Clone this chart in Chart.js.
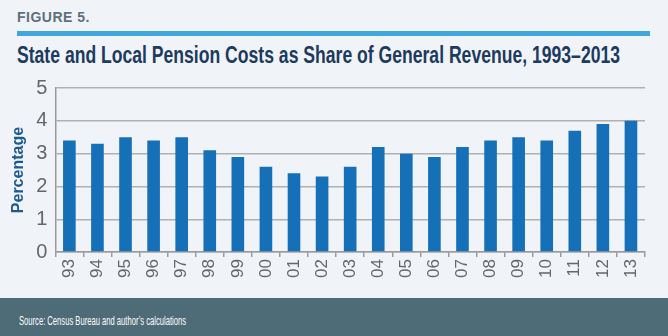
<!DOCTYPE html>
<html lang="en">
<head>
  <meta charset="UTF-8" />
  <title>Figure 5 - Pension Costs</title>
  <script src="https://cdn.jsdelivr.net/npm/chart.js"></script>
  <style>
    html, body {
      margin: 0;
      padding: 0;
    }
    body {
      width: 668px;
      height: 336px;
      background: #f0f4f8;
      position: relative;
      overflow: hidden;
      font-family: 'Liberation Sans', Arial, sans-serif;
    }
    .fig-label {
      position: absolute;
      left: 17px;
      top: 9px;
      font-weight: 700;
      font-size: 14px;
      letter-spacing: 0.5px;
      color: #5f6f7d;
    }
    .rule {
      position: absolute;
      left: 17px;
      top: 31px;
      width: 633px;
      height: 5px;
      background: #3fa7de;
    }
    .squeeze {
      position: absolute;
      white-space: nowrap;
      transform-origin: 0 0;
    }
    .title {
      left: 17px;
      top: 42px;
      font-weight: 700;
      font-size: 23px;
      color: #1d3a5f;
    }
    .chart-box {
      position: absolute;
      left: 0;
      top: 68px;
      width: 668px;
      height: 212px;
    }
    .footer {
      position: absolute;
      left: 0;
      top: 298px;
      width: 668px;
      height: 38px;
      background: #4e6b78;
    }
    .source {
      left: 19px;
      top: 313px;
      color: #ffffff;
      font-size: 13px;
    }
  </style>
</head>
<body>
  <div class="fig-label">FIGURE 5.</div>
  <div class="rule"></div>
  <div class="squeeze title" data-w="603">State and Local Pension Costs as Share of General Revenue, 1993–2013</div>
  <div class="chart-box"><canvas id="chart" width="668" height="212"></canvas></div>
  <div class="footer"></div>
  <div class="squeeze source" data-w="167">Source: Census Bureau and author’s calculations</div>

  <script>
    const years = ["93", "94", "95", "96", "97", "98", "99", "00", "01", "02", "03",
                   "04", "05", "06", "07", "08", "09", "10", "11", "12", "13"];
    const pensionShare = [3.4, 3.3, 3.5, 3.4, 3.5, 3.1, 2.9, 2.6, 2.4, 2.3, 2.6,
                          3.2, 3.0, 2.9, 3.2, 3.4, 3.5, 3.4, 3.7, 3.9, 4.0];
    const yTicks = [0, 1, 2, 3, 4, 5];

    // condensed look: squeeze text horizontally to the reference widths
    document.querySelectorAll(".squeeze").forEach(el => {
      const w = el.getBoundingClientRect().width;
      el.style.transform = `scaleX(${el.dataset.w / w})`;
    });

    const ctx = document.getElementById("chart").getContext("2d");
    const chart = new Chart(ctx, {
      type: "bar",
      data: {
        labels: years,
        datasets: [{
          data: pensionShare,
          backgroundColor: "#1570b8",
          borderWidth: 0,
          barPercentage: 0.45,
          categoryPercentage: 1.0
        }]
      },
      options: {
        responsive: false,
        animation: false,
        layout: { padding: { top: 4, right: 23, left: 5, bottom: 0 } },
        plugins: { legend: { display: false }, tooltip: { enabled: false } },
        scales: {
          x: {
            offset: true,
            grid: {
              offset: true,
              drawOnChartArea: false,
              drawTicks: true,
              tickLength: 5,
              color: "#9a9a9a",
              lineWidth: 1.5
            },
            border: { color: "#9a9a9a", width: 1.5 },
            ticks: {
              minRotation: 90,
              maxRotation: 90,
              color: "#666666",
              padding: 2,
              font: { family: "'Liberation Sans', Arial, sans-serif", size: 17 }
            }
          },
          y: {
            min: 0,
            max: 5,
            afterBuildTicks: (axis) => { axis.ticks = yTicks.map(v => ({ value: v })); },
            grid: { color: "#b0b0b0", lineWidth: 1.5, drawTicks: false },
            border: { color: "#9a9a9a", width: 1.5 },
            ticks: {
              color: "#666666",
              padding: 8,
              font: { family: "'Liberation Sans', Arial, sans-serif", size: 20 }
            },
            title: {
              display: true,
              text: "Percentage",
              color: "#1d5a8f",
              padding: { top: 4, bottom: 0 },
              font: { family: "'Liberation Sans', Arial, sans-serif", size: 16, weight: "bold" }
            }
          }
        }
      }
    });
  </script>
</body>
</html>
